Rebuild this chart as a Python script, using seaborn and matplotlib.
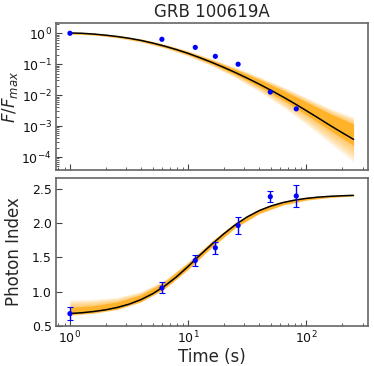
import numpy as np
import pandas as pd
import matplotlib
matplotlib.use("Agg")
import matplotlib.pyplot as plt
import seaborn as sns
from matplotlib.ticker import LogLocator, NullFormatter, FixedLocator

# ---------------- data ----------------
title = "GRB 100619A"
obs_time = [1.0, 6.0, 11.5, 17.0, 26.5, 49.6, 82.3]
flux_norm = [1.0, 0.64, 0.35, 0.18, 0.10, 0.0126, 0.0036]
photon_index = [0.68, 1.055, 1.455, 1.64, 1.965, 2.385, 2.395]
photon_index_err = [0.095, 0.08, 0.08, 0.09, 0.12, 0.08, 0.16]

# best-fit model curves (log10 time grid)
model_log_t = [0.0, 0.1, 0.2, 0.3, 0.4, 0.5, 0.6, 0.7, 0.8, 0.9, 1.0, 1.1, 1.2,
               1.3, 1.4, 1.5, 1.6, 1.7, 1.8, 1.9, 2.0, 2.1, 2.2, 2.3, 2.4]
model_log_flux = [0.01, 0.0, -0.025, -0.06, -0.105, -0.16, -0.23, -0.315, -0.415,
                  -0.525, -0.65, -0.79, -0.94, -1.10, -1.27, -1.45, -1.64, -1.84,
                  -2.05, -2.27, -2.50, -2.735, -2.975, -3.205, -3.43]
model_index = [0.682, 0.693, 0.711, 0.735, 0.770, 0.818, 0.884, 0.970, 1.080,
               1.214, 1.368, 1.533, 1.690, 1.840, 1.975, 2.090, 2.180, 2.248,
               2.298, 2.334, 2.360, 2.378, 2.390, 2.398, 2.404]

# posterior-sample envelope (every other grid point), offsets from the best fit
flux_band_in_up = [0.02, 0.02, 0.025, 0.03, 0.04, 0.05, 0.07, 0.10, 0.15, 0.21, 0.28, 0.38, 0.50]
flux_band_in_dn = [0.02, 0.02, 0.02, 0.025, 0.03, 0.035, 0.045, 0.06, 0.08, 0.10, 0.13, 0.16, 0.19]
flux_band_out_up = [0.04, 0.04, 0.05, 0.06, 0.07, 0.09, 0.12, 0.17, 0.24, 0.33, 0.43, 0.55, 0.72]
flux_band_out_dn = [0.04, 0.04, 0.05, 0.06, 0.07, 0.09, 0.12, 0.17, 0.24, 0.33, 0.45, 0.58, 0.73]

index_band_in_up = [0.09, 0.085, 0.08, 0.07, 0.06, 0.05, 0.04, 0.03, 0.02, 0.015, 0.01, 0.008, 0.005]
index_band_in_dn = [0.015, 0.015, 0.02, 0.025, 0.03, 0.035, 0.035, 0.035, 0.035, 0.03, 0.02, 0.012, 0.006]
index_band_out_up = [0.20, 0.18, 0.15, 0.12, 0.09, 0.07, 0.05, 0.04, 0.03, 0.025, 0.02, 0.015, 0.01]
index_band_out_dn = [0.03, 0.03, 0.035, 0.04, 0.05, 0.05, 0.05, 0.05, 0.05, 0.04, 0.03, 0.02, 0.01]

# ---------------- figure ----------------
sns.set_style("ticks")
plt.rcParams['font.family'] = ['DejaVu Sans']

fig = plt.figure(figsize=(3.74, 3.66), dpi=100)
ax1 = fig.add_axes([56/374, 1-170/366, 312/374, 147/366])
ax2 = fig.add_axes([56/374, 1-326/366, 312/374, 148/366])

t_model = 10 ** np.array(model_log_t)
t_band = t_model[::2]
ORANGE = "#FFA500"


def draw_band(ax, x, c, in_up, in_dn, out_up, out_dn, to_lin):
    in_up, in_dn = np.array(in_up), np.array(in_dn)
    out_up, out_dn = np.array(out_up), np.array(out_dn)
    n = 8
    for i in range(n):
        f = i / (n - 1)
        up = c + in_up + f * (out_up - in_up)
        dn = c - (in_dn + f * (out_dn - in_dn))
        ax.fill_between(x, to_lin(dn), to_lin(up), color=ORANGE, alpha=0.10, lw=0)
    ax.fill_between(x, to_lin(c - in_dn), to_lin(c + in_up), color=ORANGE, alpha=0.6, lw=0)


# top panel: normalised flux
lf = np.array(model_log_flux)
draw_band(ax1, t_band, lf[::2], flux_band_in_up, flux_band_in_dn,
          flux_band_out_up, flux_band_out_dn, lambda v: 10 ** v)
df_flux_model = pd.DataFrame({"t": t_model, "f": 10 ** lf})
sns.lineplot(data=df_flux_model, x="t", y="f", ax=ax1, color="black", lw=1.1, sort=False)
df_obs = pd.DataFrame({"t": obs_time, "f": flux_norm, "g": photon_index, "ge": photon_index_err})
sns.scatterplot(data=df_obs, x="t", y="f", ax=ax1, color="blue", s=14, edgecolor="none", zorder=5)

# bottom panel: photon index
gi = np.array(model_index)
draw_band(ax2, t_band, gi[::2], index_band_in_up, index_band_in_dn,
          index_band_out_up, index_band_out_dn, lambda v: v)
df_idx_model = pd.DataFrame({"t": t_model, "g": gi})
sns.lineplot(data=df_idx_model, x="t", y="g", ax=ax2, color="black", lw=1.1, sort=False)
ax2.errorbar(df_obs["t"], df_obs["g"], yerr=df_obs["ge"], fmt="none", ecolor="blue",
             elinewidth=1.0, capsize=2, capthick=0.8, zorder=5)
sns.scatterplot(data=df_obs, x="t", y="g", ax=ax2, color="blue", s=14, edgecolor="none", zorder=6)

for ax in (ax1, ax2):
    ax.set_xscale("log")
    ax.set_xlim(0.762, 333)
    ax.xaxis.set_major_locator(LogLocator(base=10, numticks=10))
    ax.xaxis.set_minor_locator(LogLocator(base=10, subs=np.arange(2, 10), numticks=10))
    ax.tick_params(which="both", direction="in", top=False, right=False,
                   labelsize=9, color="#444444", labelcolor="#111111")
    ax.tick_params(which="major", length=4, width=0.8, pad=3)
    ax.tick_params(which="minor", length=2, width=0.6)
    for s in ax.spines.values():
        s.set_color("#666666")
        s.set_linewidth(1.2)
    ax.set_xlabel("")

ax1.set_yscale("log")
ax1.set_ylim(3.8e-5, 2.15)
ax1.yaxis.set_major_locator(LogLocator(base=10, numticks=12))
ax1.yaxis.set_minor_locator(LogLocator(base=10, subs=np.arange(2, 10), numticks=12))
ax1.yaxis.set_minor_formatter(NullFormatter())
ax1.set_xticklabels([])
ax1.xaxis.set_minor_formatter(NullFormatter())
ax1.set_ylabel(r"$F/F_{max}$", fontsize=12)
ax1.yaxis.set_label_coords(-0.115, 0.5)
ax1.set_title(title, fontsize=12, pad=4)

ax2.set_ylim(0.5, 2.657)
ax2.yaxis.set_major_locator(FixedLocator([0.5, 1.0, 1.5, 2.0, 2.5]))
ax2.set_yticklabels(["0.5", "1.0", "1.5", "2.0", "2.5"])
ax2.set_ylabel("Photon Index", fontsize=12)
ax2.yaxis.set_label_coords(-0.105, 0.5)
ax2.set_xlabel("Time (s)", fontsize=12, labelpad=1)

fig.savefig("out.png", dpi=100)
